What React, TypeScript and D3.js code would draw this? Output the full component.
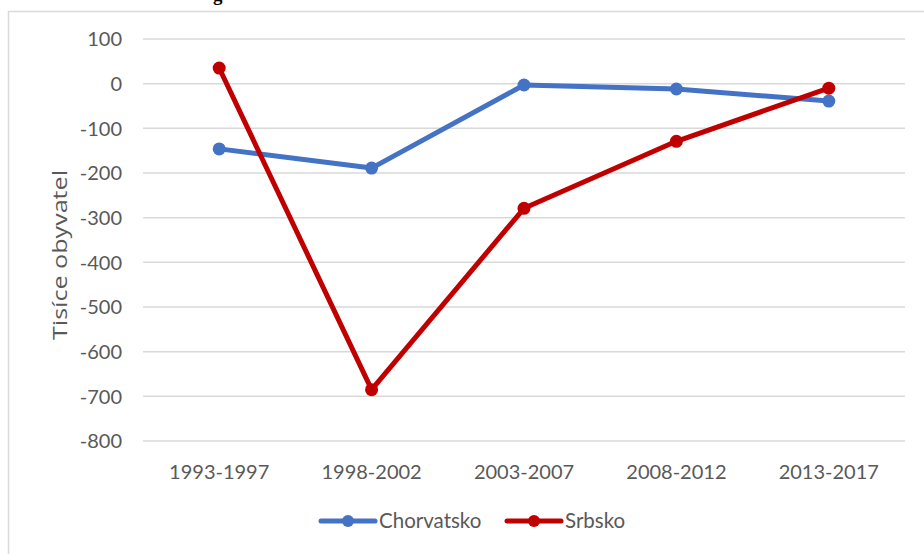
import React from "react";
import * as d3 from "d3";

const categories = ["1993-1997", "1998-2002", "2003-2007", "2008-2012", "2013-2017"];
const chorvatsko = [-146, -189, -3, -12, -39];
const srbsko = [35, -685, -279, -129, -10];
const yTicks = [100, 0, -100, -200, -300, -400, -500, -600, -700, -800];
const seriesNames = ["Chorvatsko", "Srbsko"];
const seriesColors = ["#4472C4", "#C00000"];

const W = 924;
const H = 554;
const plotLeft = 143;
const plotRight = 905;
const plotTop = 39;
const plotBottom = 441;
const font = "Lato, 'Open Sans', sans-serif";

export default function App() {
  const x = d3.scaleBand<string>().domain(categories).range([plotLeft, plotRight]);
  const y = d3.scaleLinear().domain([-800, 100]).range([plotBottom, plotTop]);
  const cx = (i: number) => (x(categories[i]) as number) + x.bandwidth() / 2;
  const line = d3
    .line<number>()
    .x((_, i) => cx(i))
    .y((v) => y(v));
  const series = [chorvatsko, srbsko];

  return (
    <svg
      width={W}
      height={H}
      style={{ position: "absolute", left: 0, top: 0, background: "#fff" }}
    >
      <rect x={0} y={0} width={W} height={H} fill="#fff" />
      <text x={213} y={1} fontFamily="'Liberation Serif', serif" fontWeight="bold" fontSize={19} fill="#000">
        g
      </text>
      <path d={`M8.5,${H} V11.5 H${W}`} fill="none" stroke="#d9d9d9" strokeWidth={1.5} />
      {yTicks.map((t) => (
        <g key={t}>
          <line x1={plotLeft} x2={plotRight} y1={y(t)} y2={y(t)} stroke="#d9d9d9" strokeWidth={1.5} />
          <text
            x={122}
            y={y(t)}
            dy="0.36em"
            textAnchor="end"
            fontFamily={font}
            fontSize={20}
            fill="#595959"
          >
            {t}
          </text>
        </g>
      ))}
      {categories.map((c, i) => (
        <text
          key={c}
          x={cx(i)}
          y={479}
          textAnchor="middle"
          fontFamily={font}
          fontSize={20}
          fill="#595959"
        >
          {c}
        </text>
      ))}
      <text
        transform={`translate(67,255) rotate(-90)`}
        textAnchor="middle"
        fontFamily="'Open Sans', Lato, sans-serif"
        fontSize={20}
        textLength={170}
        lengthAdjust="spacingAndGlyphs"
        fill="#595959"
      >
        Tisíce obyvatel
      </text>
      {series.map((s, si) => (
        <g key={si}>
          <path
            d={line(s) as string}
            fill="none"
            stroke={seriesColors[si]}
            strokeWidth={5}
            strokeLinejoin="round"
            strokeLinecap="round"
          />
          {s.map((v, i) => (
            <circle key={i} cx={cx(i)} cy={y(v)} r={6.5} fill={seriesColors[si]} />
          ))}
        </g>
      ))}
      {seriesNames.map((n, i) => {
        const lx = [321, 507][i];
        return (
          <g key={n}>
            <line
              x1={lx}
              x2={lx + 54}
              y1={521}
              y2={521}
              stroke={seriesColors[i]}
              strokeWidth={5}
              strokeLinecap="round"
            />
            <circle cx={lx + 27} cy={521} r={6} fill={seriesColors[i]} />
            <text x={lx + 58} y={521} dy="0.36em" fontFamily={font} fontSize={20.5} fill="#595959">
              {n}
            </text>
          </g>
        );
      })}
    </svg>
  );
}
